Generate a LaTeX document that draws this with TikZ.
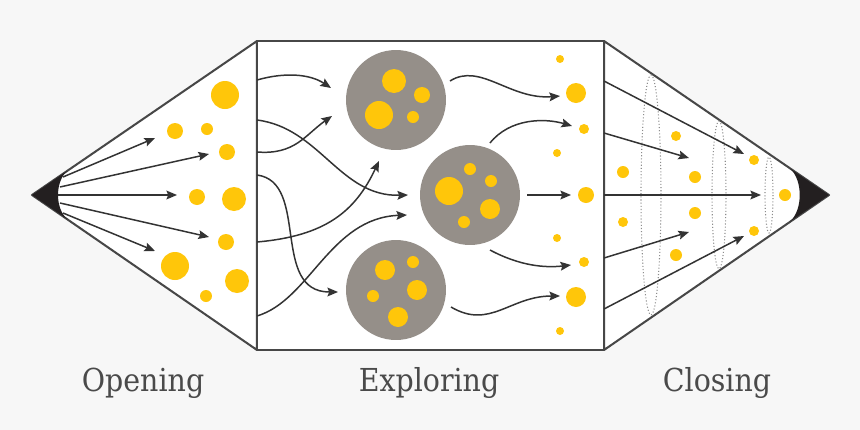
\documentclass[tikz,border=0pt]{standalone}
\usepackage{fontspec}
\setmainfont{DejaVu Serif Condensed}
\usetikzlibrary{arrows.meta}
\definecolor{dotyellow}{HTML}{FFC60A}
\definecolor{stonegray}{HTML}{958F89}
\definecolor{linegray}{HTML}{333333}
\definecolor{bggray}{HTML}{F7F7F7}
\definecolor{textgray}{HTML}{4A4A4A}
\definecolor{tipblack}{HTML}{231F20}
\tikzset{
  flow/.style={draw=linegray, line width=0.85pt, -{Stealth[length=6pt,width=5pt,inset=1pt]}},
  frame/.style={draw=linegray!90, line width=1.15pt, fill=white, line join=round},
  stone/.style={circle, fill=stonegray, minimum size=2cm, inner sep=0pt},
  phase/.style={font=\fontsize{18}{21}\selectfont, text=textgray},
  seam/.style={draw=black!45, line width=0.6pt, dash pattern=on 0.6pt off 1.2pt}
}
\begin{document}
\begin{tikzpicture}[x=0.02cm, y=-0.02cm]
    \fill[bggray] (0,0) rectangle (860,430);
    \useasboundingbox (0,0) rectangle (860,430);

    % Frames
    \draw[frame] (32,195) -- (257,41) -- (257,350) -- cycle;
    \draw[frame] (604,41) -- (829,195) -- (604,350) -- cycle;
    \draw[frame] (257,41) rectangle (604,350);

    % Tips
    \fill[tipblack] (32,195) -- (67,171) .. controls (55,182) and (55,208) .. (67,219) -- cycle;
    \fill[tipblack] (829,195) -- (790,168.5) .. controls (803,180) and (803,210) .. (790,221.5) -- cycle;

    % Converging rings
    \draw[seam] (651,195) ellipse (10 and 120);
    \draw[seam] (719,195) ellipse (7 and 74);
    \draw[seam] (769,195) ellipse (4 and 38);

    % Opening ideas
    \foreach \x/\y/\r in {225/95/14, 175/131/8, 207/129/6, 227/152/8, 197/197/8,
        234/199/12, 226/242/8, 175/266/14, 237/281/12, 206/296/6}
        \fill[dotyellow] (\x,\y) circle (\r);

    % Clusters
    \node[stone] (upper) at (396,100) {};
    \node[stone] (middle) at (470,195) {};
    \node[stone] (lower) at (396,290) {};
    \foreach \x/\y/\r in {394/81/12, 422/95/8, 379/115/14, 413/117/6,
        449/191/14, 470/169/6, 491/181/6, 490/209/10, 464/222/6,
        385/270/10, 413/262/6, 417/290/10, 373/296/6, 398/317/10}
        \fill[dotyellow] (\x,\y) circle (\r);

    % Explored ideas
    \foreach \x/\y/\r in {560/59/4, 576/93/10, 584/129/5, 557/153/4, 586/195/8,
        557/238/4, 584/262/5, 576/297/10, 560/331/4}
        \fill[dotyellow] (\x,\y) circle (\r);

    % Closing ideas
    \foreach \x/\y/\r in {623/172/6, 676/136/5, 695/177/6, 754/160/5, 785/195/6,
        623/222/5, 695/213/6, 754/231/5, 676/255/6}
        \fill[dotyellow] (\x,\y) circle (\r);

    % Opening arrows
    \foreach \i/\sx/\sy/\ex/\ey in {1/63/177/155/138, 2/60/187/209/154, 3/58/195/177/195,
        4/60/203/209/237, 5/63/213/155/251} {
        \coordinate (open\i) at (\sx,\sy);
        \coordinate (idea\i) at (\ex,\ey);
        \draw[flow] (open\i) -- (idea\i);
    }

    % Exploring arrows
    \coordinate (in1) at (257,80);
    \coordinate (in2) at (257,120);
    \coordinate (in3) at (257,152);
    \coordinate (in4) at (257,175);
    \coordinate (in5) at (257,242);
    \coordinate (in6) at (257,316);
    \coordinate (to1) at (331,88);
    \coordinate (to2) at (332,116);
    \coordinate (to3) at (408,195);
    \coordinate (to4) at (338,292);
    \coordinate (to5) at (379,161);
    \coordinate (to6) at (407,215);
    \draw[flow] (in1) .. controls (285,72) and (310,74) .. (to1);
    \draw[flow] (in3) .. controls (295,155) and (305,135) .. (to2);
    \draw[flow] (in2) .. controls (320,128) and (340,197) .. (to3);
    \draw[flow] (in4) .. controls (310,182) and (270,292) .. (to4);
    \draw[flow] (in5) .. controls (325,236) and (355,212) .. (to5);
    \draw[flow] (in6) .. controls (310,300) and (330,218) .. (to6);

    % Out of the clusters
    \coordinate (out1) at (450,81);
    \coordinate (out2) at (490,143);
    \coordinate (out3) at (527,195);
    \coordinate (out4) at (490,250);
    \coordinate (out5) at (451,307);
    \coordinate (res1) at (560,96);
    \coordinate (res2) at (572,126);
    \coordinate (res3) at (571,195);
    \coordinate (res4) at (571,265);
    \coordinate (res5) at (560,296);
    \draw[flow] (out1) .. controls (480,62) and (510,100) .. (res1);
    \draw[flow] (out2) .. controls (510,118) and (545,118) .. (res2);
    \draw[flow] (out3) -- (res3);
    \draw[flow] (out4) .. controls (520,266) and (545,268) .. (res4);
    \draw[flow] (out5) .. controls (490,330) and (510,296) .. (res5);

    % Closing arrows
    \foreach \i/\sy/\ex/\ey in {1/81/744/154, 2/133/689/158, 3/195/761/195,
        4/258/689/232, 5/309/744/236} {
        \coordinate (edge\i) at (604,\sy);
        \coordinate (pick\i) at (\ex,\ey);
        \draw[flow] (edge\i) -- (pick\i);
    }

    % Phase labels
    \node[phase] (opening) at (143,383) {Opening};
    \node[phase] (exploring) at (429,383) {Exploring};
    \node[phase] (closing) at (717,383) {Closing};

\end{tikzpicture}
\end{document}
